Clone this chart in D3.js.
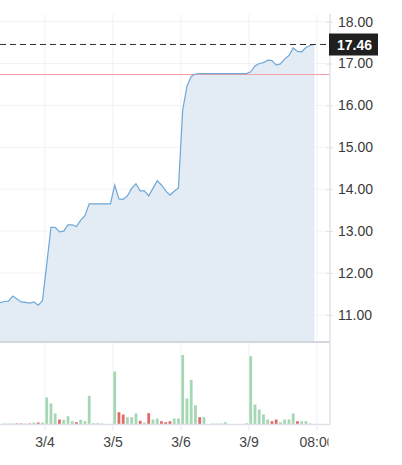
<!DOCTYPE html>
<html><head><meta charset="utf-8">
<script src="https://cdn.jsdelivr.net/npm/d3@7"></script>
<style>
html,body{margin:0;padding:0;background:#fff;}
svg{display:block;font-family:"Liberation Sans",Arial,sans-serif;}
</style></head>
<body>
<svg id="c" width="402" height="465"></svg>
<script>
// bar index (-11 .. 63); 16 bars per trading day, day starts at index 0,16,32,48
const barIndex = d3.range(-11, 64);
const prices = [
  11.29, 11.32, 11.33, 11.45, 11.38, 11.31, 11.30, 11.28, 11.31, 11.23, 11.34,
  12.20, 13.09, 13.09, 12.98, 13.00, 13.15, 13.15, 13.11, 13.26, 13.37, 13.65, 13.65, 13.65, 13.65, 13.65, 13.65,
  14.10, 13.77, 13.76, 13.84, 14.02, 14.13, 13.96, 13.96, 13.84, 14.02, 14.20, 14.10, 13.96, 13.86, 13.95, 14.03,
  15.89, 16.46, 16.69, 16.75, 16.76, 16.76, 16.76, 16.76, 16.76, 16.76, 16.76, 16.76, 16.76, 16.76, 16.76, 16.76,
  16.80, 16.94, 17.00, 17.02, 17.08, 17.07, 16.96, 16.99, 17.11, 17.19, 17.37, 17.29, 17.28, 17.38, 17.43, 17.46
];
const volumes = [
  0, 1, 1, 1, 1, 1, 1, 1, 2, 2, 2,
  27, 21, 11, 5, 4.7, 8.3, 3.3, 2.3, 4.7, 3.3, 28.7, 1.3, 1.3, 1, 0, 0,
  53, 12.3, 10, 7.3, 7.3, 11, 3.7, 2, 11.3, 5, 6, 3.3, 2.3, 3.3, 6, 6,
  69.5, 26, 44.7, 19.3, 7.3, 7.3, 0, 1, 1, 1, 2.3, 0, 0, 0, 0, 1.3,
  68.3, 20, 15, 10, 5, 3.3, 5, 2.3, 5, 5, 11, 3.3, 3.3, 3.3, 1, 0
];
const volUp = [
  1,1,1,1,0,0,1,0,1,0,1,
  1,1,1,0,1,1,1,0,1,1,1,1,1,1,1,1,
  1,0,0,1,1,1,0,1,0,1,1,0,0,0,1,1,
  1,1,1,1,0,1,1,1,1,1,1,1,1,1,1,1,
  1,1,1,1,1,0,0,1,1,1,1,0,1,1,1,1
];
const priceTicks = [11, 12, 13, 14, 15, 16, 17, 18];
const dayTickIdx = [0, 16, 32, 48, 64];
const dayTickLabels = ["3/4", "3/5", "3/6", "3/9", "08:00"];
const lastPrice = 17.46;
const prevClose = 16.76;

const W = 402, H = 465;
const plotRight = 330, plotTop = 14, priceBottom = 342, volBottom = 424.5;
const svg = d3.select("#c");

const x = d3.scaleLinear().domain([0, 63]).range([46.7, 314.45]);
const y = d3.scaleLinear().domain([11, 18]).range([314.9, 21.6]);
const v = d3.scaleLinear().domain([0, 70]).range([volBottom, volBottom - 70]);

const defs = svg.append("defs");
defs.append("clipPath").attr("id", "plotclip").append("rect")
  .attr("x", 0).attr("y", 0).attr("width", plotRight).attr("height", H);
defs.append("clipPath").attr("id", "textclip").append("rect")
  .attr("x", 0).attr("y", -20).attr("width", plotRight - 1.5).attr("height", 60);

const data = barIndex.map((i, k) => ({i, p: prices[k], vol: volumes[k], up: volUp[k]}));
const dayX = d => x(d - 0.4);

// grids
const g = svg.append("g").attr("clip-path", "url(#plotclip)");
g.selectAll(".hg").data(priceTicks).join("line")
  .attr("x1", 0).attr("x2", plotRight).attr("y1", d => y(d)).attr("y2", d => y(d))
  .attr("stroke", "#f2f3f6").attr("stroke-width", 1);
g.selectAll(".vg").data(dayTickIdx).join("line")
  .attr("x1", d => dayX(d)).attr("x2", d => dayX(d)).attr("y1", plotTop).attr("y2", volBottom)
  .attr("stroke", "#f0f1f4").attr("stroke-width", 1);

// area & line
const area = d3.area().x(d => x(d.i)).y0(priceBottom).y1(d => y(d.p));
g.append("path").datum(data).attr("d", area).attr("fill", "#e3ecf5");
// prev close line
const pcY = Math.round(y(prevClose)) + 0.5;
g.append("line").attr("x1", 0).attr("x2", plotRight).attr("y1", pcY).attr("y2", pcY)
  .attr("stroke", "#f5a0a6").attr("stroke-width", 1.2);
const line = d3.line().x(d => x(d.i)).y(d => y(d.p));
g.append("path").datum(data).attr("d", line).attr("fill", "none")
  .attr("stroke", "#6fa7d7").attr("stroke-width", 1.2);
// last price dashed
const lpY = Math.round(y(lastPrice)) + 0.5;
g.append("line").attr("x1", 0).attr("x2", plotRight).attr("y1", lpY).attr("y2", lpY)
  .attr("stroke", "#333").attr("stroke-width", 1).attr("stroke-dasharray", "6,4");

// panel separator
svg.append("line").attr("x1", 0).attr("x2", plotRight).attr("y1", priceBottom).attr("y2", priceBottom)
  .attr("stroke", "#d3d6dd").attr("stroke-width", 2);

// volume bars
g.selectAll(".vb").data(data.filter(d => d.vol > 0)).join("rect")
  .attr("x", d => x(d.i) - 1.4).attr("width", 2.8)
  .attr("y", d => v(d.vol)).attr("height", d => volBottom - v(d.vol))
  .attr("fill", d => d.up ? "#a6d7b4" : "#e06a6a");

// volume axis baseline
svg.append("line").attr("x1", 0).attr("x2", plotRight).attr("y1", volBottom).attr("y2", volBottom)
  .attr("stroke", "#dfe2e8").attr("stroke-width", 1.5);

// right axis
const ra = svg.append("g").attr("transform", `translate(${plotRight},0)`)
  .call(d3.axisRight(y).tickValues(priceTicks).tickFormat(d3.format(".2f")).tickSize(3).tickPadding(5));
ra.select(".domain").remove();
ra.append("line").attr("x1", 0).attr("x2", 0).attr("y1", plotTop).attr("y2", volBottom)
  .attr("stroke", "#dfe2e8").attr("stroke-width", 1.5);
ra.selectAll(".tick line").attr("stroke", "#dfe2e8").attr("x1", -4);
ra.selectAll(".tick text").attr("fill", "#3a3a3a").style("font-size", "14px")
  .style("font-family", "'Liberation Sans',Arial,sans-serif");

// last price label
const lp = svg.append("g").attr("transform", `translate(${plotRight - 1},${lpY})`);
lp.append("rect").attr("x", 0).attr("y", -11).attr("width", 49).attr("height", 22).attr("fill", "#1f1f1f");
lp.append("text").attr("x", 8).attr("y", 5).attr("fill", "#fff").style("font-size", "14px")
  .style("font-weight", "bold").text(d3.format(".2f")(lastPrice));

// bottom axis
const ba = svg.append("g").attr("transform", `translate(0,${volBottom})`);
ba.selectAll("line").data(dayTickIdx).join("line")
  .attr("x1", d => dayX(d)).attr("x2", d => dayX(d)).attr("y1", 0).attr("y2", 6)
  .attr("stroke", "#e6e8ed").attr("stroke-width", 1);
ba.append("g").attr("clip-path", "url(#textclip)")
  .selectAll("text").data(dayTickIdx).join("text")
  .attr("x", d => dayX(d)).attr("y", 22).attr("text-anchor", "middle")
  .attr("fill", "#444").style("font-size", "14px")
  .text((d, k) => dayTickLabels[k]);
</script>
</body></html>
